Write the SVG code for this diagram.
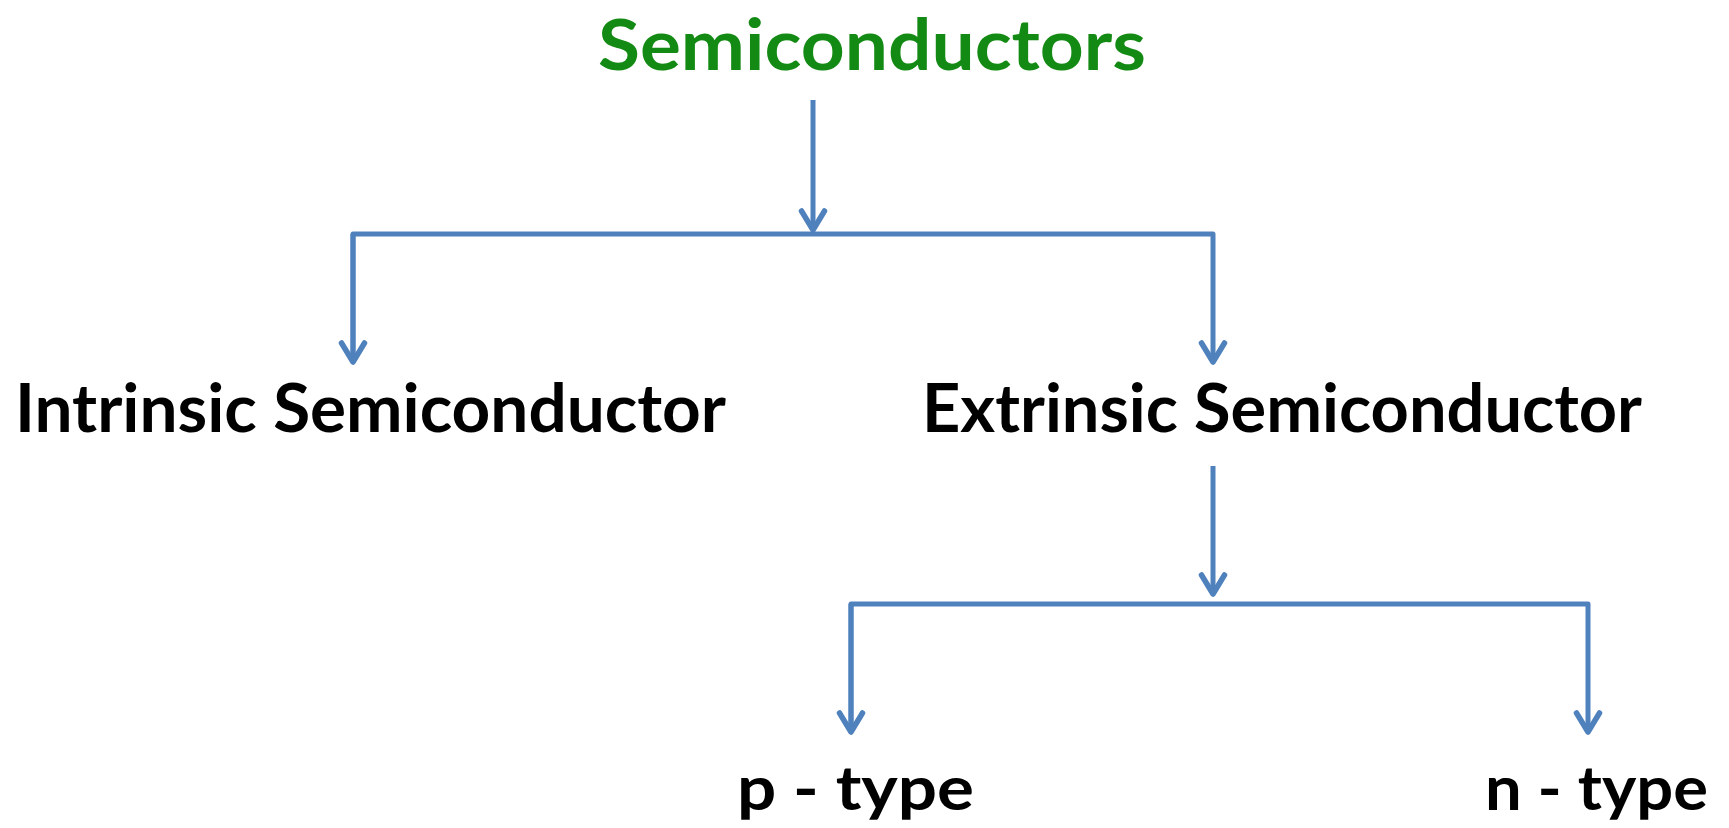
<svg xmlns="http://www.w3.org/2000/svg" width="1729" height="828" viewBox="0 0 1729 828">
<style>
.t{font-family:Lato,"Open Sans","Liberation Sans",sans-serif;font-weight:bold;fill:#000}
.g{fill:#138A13}
.c{fill:none;stroke:#4F81BD;stroke-width:5;stroke-linejoin:round}
</style>
<defs>
<marker id="arr" markerUnits="userSpaceOnUse" markerWidth="28" markerHeight="32" viewBox="-23 -16 28 32" refX="0" refY="0" orient="auto">
<path d="M-19,-11.5 L0,0 L-19,11.5" fill="none" stroke="#4F81BD" stroke-width="5.5" stroke-linecap="round" stroke-linejoin="round"/>
</marker>
</defs>
<rect width="1729" height="828" fill="#fff"/>
<g id="connectors">
<path class="c" d="M813,100 V230" marker-end="url(#arr)"/>
<path class="c" d="M353,362 V234 H1213 V362" marker-end="url(#arr)"/>
<path class="c" d="M353,234 V362" marker-end="url(#arr)"/>
<path class="c" d="M1213,466 V594" marker-end="url(#arr)"/>
<path class="c" d="M851,732 V604 H1588 V732" marker-end="url(#arr)"/>
<path class="c" d="M851,604 V732" marker-end="url(#arr)"/>
</g>
<g id="semiconductors"><text class="t g" x="598" y="70" font-size="70" textLength="548" lengthAdjust="spacingAndGlyphs">Semiconductors</text></g>
<g id="intrinsic"><text class="t" x="15" y="432" font-size="66" textLength="711" lengthAdjust="spacingAndGlyphs">Intrinsic Semiconductor</text></g>
<g id="extrinsic"><text class="t" x="922" y="432" font-size="66" textLength="720" lengthAdjust="spacingAndGlyphs">Extrinsic Semiconductor</text></g>
<g id="ptype"><text class="t" x="737" y="810" font-size="62" textLength="237" lengthAdjust="spacingAndGlyphs">p - type</text></g>
<g id="ntype"><text class="t" x="1485" y="810" font-size="62" textLength="223" lengthAdjust="spacingAndGlyphs">n - type</text></g>
</svg>
